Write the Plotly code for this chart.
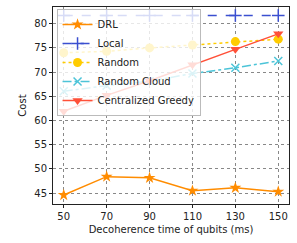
import plotly.graph_objects as go

x_vals = [50, 70, 90, 110, 130, 150]
drl = [44.6, 48.4, 48.15, 45.5, 46.1, 45.3]
local = [81.7, 81.7, 81.7, 81.7, 81.7, 81.7]
random_ = [74.0, 74.3, 75.0, 75.6, 76.3, 76.8]
random_cloud = [66.05, 67.2, 68.1, 69.7, 70.9, 72.3]
greedy = [61.9, 65.2, 68.2, 71.5, 74.7, 77.9]

fig = go.Figure()
fig.add_trace(go.Scatter(x=x_vals, y=drl, name="DRL", mode="lines+markers",
                         line=dict(color="#ff8c00", width=1.5, dash="solid"),
                         marker=dict(symbol="star", size=9, color="#ff8c00")))
fig.add_trace(go.Scatter(x=x_vals, y=local, name="Local", mode="lines+markers",
                         line=dict(color="#3b4fd0", width=1.5, dash="dash"),
                         marker=dict(symbol="cross-thin-open", size=9, line=dict(color="#3b4fd0", width=1.5))))
fig.add_trace(go.Scatter(x=x_vals, y=random_, name="Random", mode="lines+markers",
                         line=dict(color="#ffcc00", width=1.5, dash="dot"),
                         marker=dict(symbol="circle", size=9, color="#ffcc00")))
fig.add_trace(go.Scatter(x=x_vals, y=random_cloud, name="Random Cloud", mode="lines+markers",
                         line=dict(color="#4cc4d8", width=1.5, dash="dashdot"),
                         marker=dict(symbol="x-thin-open", size=8, line=dict(color="#4cc4d8", width=1.5))))
fig.add_trace(go.Scatter(x=x_vals, y=greedy, name="Centralized Greedy", mode="lines+markers",
                         line=dict(color="#ff5038", width=1.5, dash="solid"),
                         marker=dict(symbol="triangle-down", size=9, color="#ff5038")))

axis_common = dict(showline=True, linecolor="#222", linewidth=1, mirror=True,
                   ticks="outside", ticklen=3, tickcolor="#222",
                   showgrid=True, gridcolor="#888", griddash="dot", gridwidth=1,
                   zeroline=False, tickfont=dict(size=10, color="#222"),
                   automargin=False)

fig.update_layout(
    width=297, height=243,
    margin=dict(l=53, r=8, t=7, b=39),
    paper_bgcolor="white", plot_bgcolor="white",
    font=dict(family="DejaVu Sans", size=10, color="#222"),
    xaxis=dict(range=[45, 155], tickvals=x_vals,
               title=dict(text="Decoherence time of qubits (ms)", font=dict(size=10), standoff=4),
               **axis_common),
    yaxis=dict(range=[42.75, 83.45], tickvals=[45, 50, 55, 60, 65, 70, 75, 80],
               title=dict(text="Cost", font=dict(size=10), standoff=5),
               **axis_common),
    legend=dict(x=0.015, y=0.99, xanchor="left", yanchor="top",
                bgcolor="rgba(255,255,255,0.8)", bordercolor="#bbb", borderwidth=1,
                font=dict(size=10), tracegroupgap=0, itemwidth=30),
    showlegend=True,
)

fig.write_html("out.html", config={"displayModeBar": False},
               post_script="document.body.style.margin='0';document.body.style.overflow='hidden';")
